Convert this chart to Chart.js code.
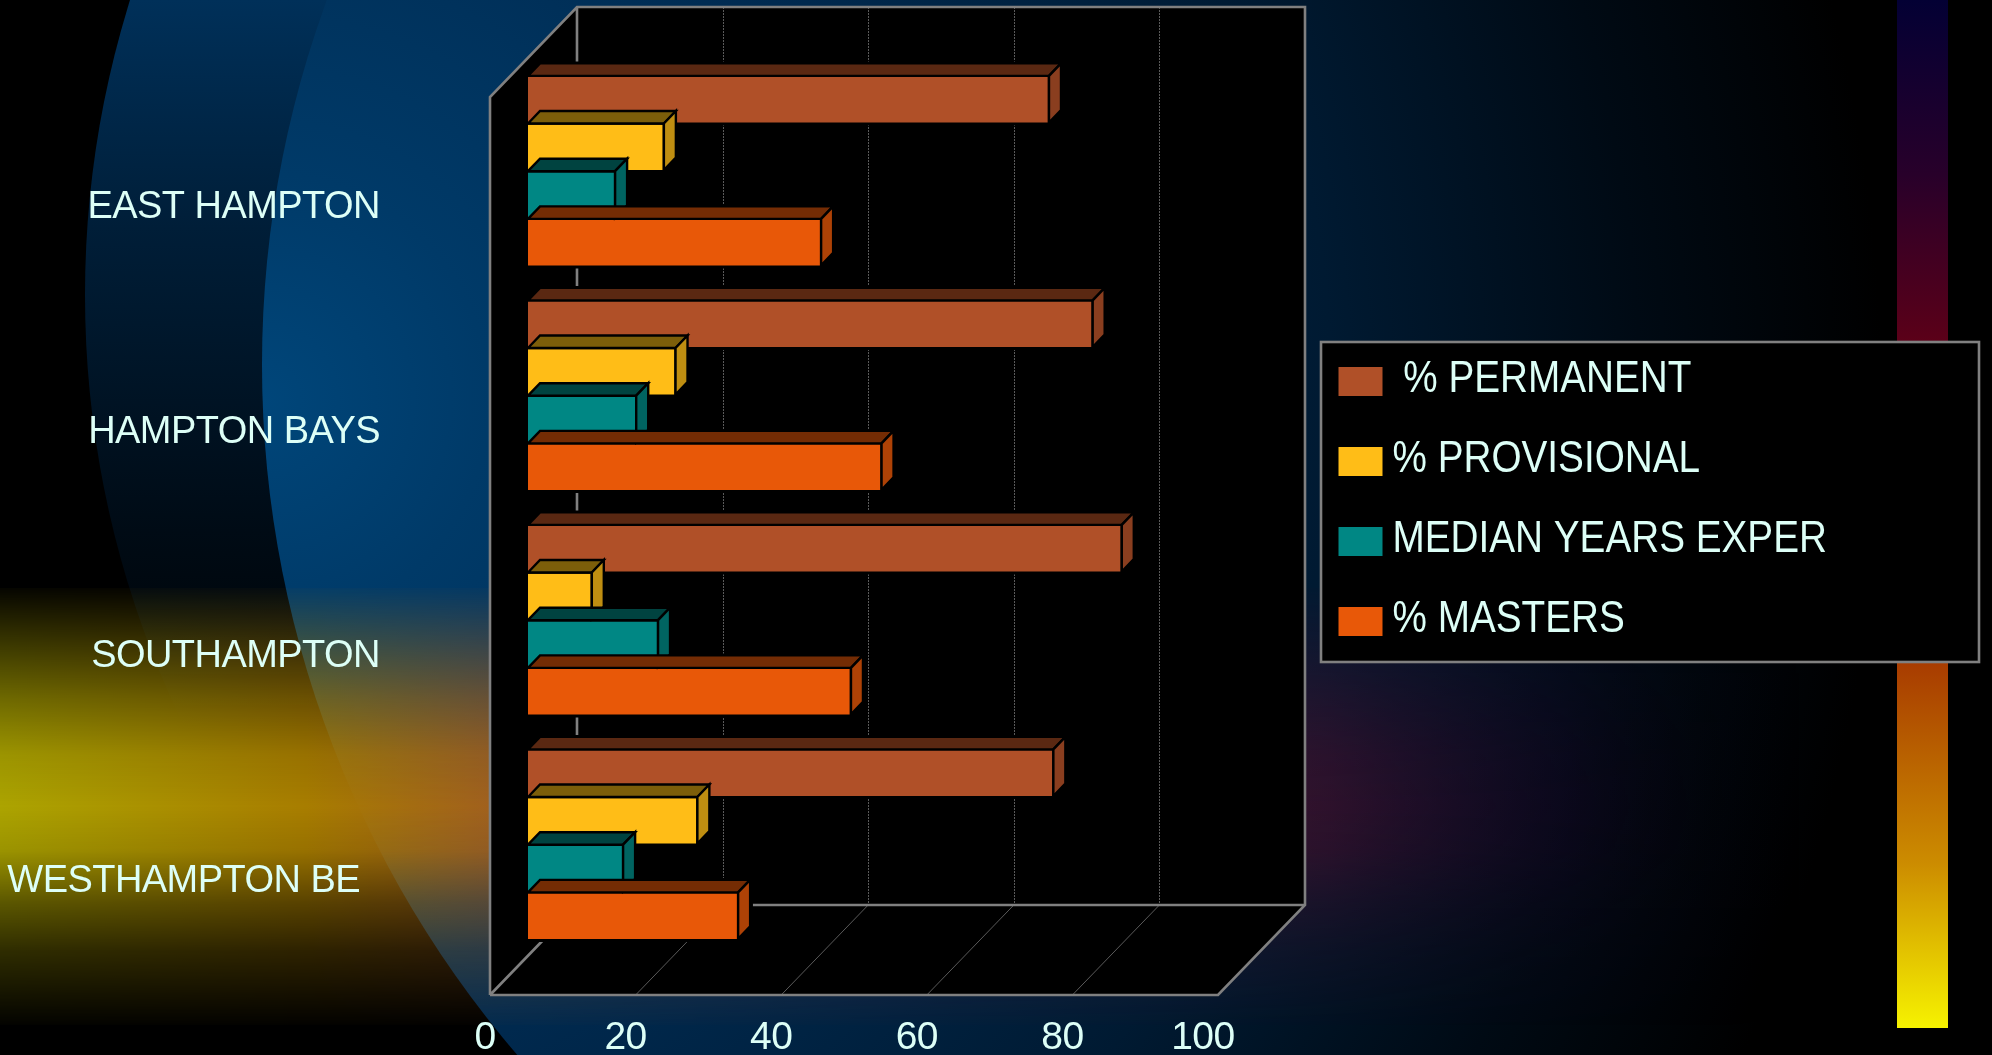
<!DOCTYPE html>
<html><head><meta charset="utf-8">
<style>html,body{margin:0;padding:0;background:#000;overflow:hidden}canvas{display:block}</style>
<script src="https://cdn.jsdelivr.net/npm/chart.js@4/dist/chart.umd.js"></script>
</head><body>
<canvas id="c" width="1992" height="1055"></canvas>
<script>
const categories = ["EAST HAMPTON", "HAMPTON BAYS", "SOUTHAMPTON", "WESTHAMPTON BE"];
const seriesNames = [" % PERMANENT", "% PROVISIONAL", "MEDIAN YEARS EXPER", "% MASTERS"];
const permanent = [71.4, 77.4, 81.4, 72.0];
const provisional = [18.5, 20.1, 8.6, 23.1];
const medianYears = [11.8, 14.7, 17.7, 12.9];
const masters = [40.1, 48.4, 44.2, 28.7];
const xTicks = [0, 20, 40, 60, 80, 100];
const faceColors = ["#B05028", "#FFBD17", "#008784", "#E85808"];
const topColors = ["#5A2812", "#7C5E0A", "#004340", "#742C04"];
const sideColors = ["#8A3E1F", "#BF8E11", "#006461", "#AE4206"];

const FONT = "Liberation Sans";
const TEXT = "#DDFFF7";
const FRAME = "#808080";
const depth = {fx:-38, fy:38, bx:49, by:-52};
const barDepth = {dx:12, dy:12.5, gap:1.2};

function paintBackground(ctx){
  ctx.letterSpacing = "-0.55px";
  ctx.save();
  ctx.fillStyle = "#000"; ctx.fillRect(0,0,1992,1055);
  ctx.save();
  ctx.beginPath(); ctx.arc(1074,295,989,0,Math.PI*2); ctx.clip();
  let g = ctx.createLinearGradient(0,0,0,760);
  g.addColorStop(0,"#003059"); g.addColorStop(.3,"#001e38"); g.addColorStop(.7,"#000b15"); g.addColorStop(1,"#000000");
  ctx.fillStyle = g; ctx.fillRect(0,0,1992,1055);
  ctx.restore();
  ctx.save();
  ctx.beginPath(); ctx.arc(1322,365,1060,0,Math.PI*2); ctx.clip();
  g = ctx.createRadialGradient(262,400,0,262,400,1620);
  g.addColorStop(0,"#00467a"); g.addColorStop(.14,"#003a68"); g.addColorStop(.4,"#002a50");
  g.addColorStop(.66,"#001a32"); g.addColorStop(.85,"#000a14"); g.addColorStop(1,"#000000");
  ctx.fillStyle = g; ctx.fillRect(0,0,1992,1055);
  ctx.restore();
  const off = document.createElement("canvas"); off.width = 1992; off.height = 437;
  const o = off.getContext("2d");
  g = o.createLinearGradient(0,0,1800,0);
  g.addColorStop(0,"rgba(172,164,0,1)");
  g.addColorStop(.17,"rgba(168,125,0,1)");
  g.addColorStop(.27,"rgba(170,100,25,.95)");
  g.addColorStop(.5,"rgba(140,40,40,.7)");
  g.addColorStop(.74,"rgba(72,14,44,.62)");
  g.addColorStop(.87,"rgba(30,4,40,.35)");
  g.addColorStop(1,"rgba(0,0,0,0)");
  o.fillStyle = g; o.fillRect(0,0,1992,437);
  o.globalCompositeOperation = "destination-in";
  g = o.createLinearGradient(0,0,0,437);
  [[0,.03],[.14,.37],[.25,.63],[.38,.9],[.5,1],[.6,.9],[.72,.53],[.83,.27],[1,.02]].forEach(s=>g.addColorStop(s[0],"rgba(0,0,0,"+s[1]+")"));
  o.fillStyle = g; o.fillRect(0,0,1992,437);
  ctx.drawImage(off,0,588);
  g = ctx.createLinearGradient(0,0,0,1028);
  g.addColorStop(0,"#030034"); g.addColorStop(.17,"#28002a"); g.addColorStop(.335,"#5c0018");
  g.addColorStop(.5,"#800f10"); g.addColorStop(.645,"#a83c00"); g.addColorStop(.84,"#cc8c00"); g.addColorStop(1,"#f6f200");
  ctx.fillStyle = g; ctx.fillRect(1897,0,51,1028);
  ctx.restore();
}

function line(ctx,a,b,c,d){ctx.beginPath();ctx.moveTo(a,b);ctx.lineTo(c,d);ctx.stroke();}

function paintBox(ctx,chart){
  const {left,right,top,bottom} = chart.chartArea;
  const x = chart.scales.x;
  const fl = left+depth.fx, fr = right+depth.fx, ft = top+depth.fy, fb = bottom+depth.fy;
  const bl = left+depth.bx, br = right+depth.bx, bt = top+depth.by, bb = bottom+depth.by;
  ctx.save();
  ctx.fillStyle = "#000";
  ctx.beginPath();
  ctx.moveTo(fl,ft);ctx.lineTo(bl,bt);ctx.lineTo(br,bt);ctx.lineTo(br,bb);ctx.lineTo(fr,fb);ctx.lineTo(fl,fb);ctx.closePath();
  ctx.fill();
  ctx.lineWidth = 1; ctx.strokeStyle = "#5a5a5a";
  x.ticks.forEach(t=>{
    const p = x.getPixelForValue(t.value);
    if(t.value>0 && t.value<100){
      ctx.setLineDash([2,1]);
      line(ctx,Math.round(p+depth.bx)+.5,bt,Math.round(p+depth.bx)+.5,bb);
      ctx.setLineDash([]);
      line(ctx,p+depth.fx,fb,p+depth.bx,bb);
    }
  });
  ctx.strokeStyle = FRAME; ctx.lineWidth = 2.6;
  ctx.beginPath();
  ctx.moveTo(fl,fb);ctx.lineTo(fl,ft);ctx.lineTo(bl,bt);ctx.lineTo(br,bt);ctx.lineTo(br,bb);ctx.lineTo(fr,fb);ctx.lineTo(fl,fb);
  ctx.moveTo(bl,bt);ctx.lineTo(bl,bb);ctx.lineTo(br,bb);
  ctx.moveTo(bl,bb);ctx.lineTo(fl,fb);
  ctx.stroke();
  const {dx,dy} = barDepth;
  chart.getSortedVisibleDatasetMetas().forEach(m=>{
    m.data.forEach(el=>{
      const t = el.y-el.height/2, b = el.y+el.height/2;
      ctx.beginPath();
      ctx.moveTo(el.base,b);ctx.lineTo(el.base,t);ctx.lineTo(el.base+dx,t-dy);ctx.lineTo(el.x+dx+1,t-dy);ctx.lineTo(el.x+dx+1,b-dy);ctx.lineTo(el.x,b);ctx.closePath();
      ctx.strokeStyle="#000";ctx.lineWidth=6;ctx.lineJoin="miter";ctx.stroke();ctx.fillStyle="#000";ctx.fill();
    });
  });
  ctx.restore();
}

function paintBarDepth(ctx,chart){
  const {dx,dy,gap} = barDepth;
  ctx.save();
  ctx.lineJoin = "miter"; ctx.strokeStyle = "#000"; ctx.lineWidth = gap*2;
  chart.data.datasets.forEach((d,i)=>{
    chart.getDatasetMeta(i).data.forEach(el=>{
      const t = el.y-el.height/2-gap, b = el.y+el.height/2, l = el.base, r = el.x+gap;
      ctx.beginPath();
      ctx.moveTo(l,t);ctx.lineTo(l+dx,t-dy);ctx.lineTo(r+dx,t-dy);ctx.lineTo(r,t);ctx.closePath();
      ctx.fillStyle = topColors[i];ctx.fill();ctx.stroke();
      ctx.beginPath();
      ctx.moveTo(r,t);ctx.lineTo(r+dx,t-dy);ctx.lineTo(r+dx,b-dy);ctx.lineTo(r,b);ctx.closePath();
      ctx.fillStyle = sideColors[i];ctx.fill();ctx.stroke();
    });
  });
  ctx.restore();
}

function paintLegend(ctx,chart){
  ctx.save();
  ctx.fillStyle = "#000";ctx.fillRect(1321,342,658,320);
  ctx.strokeStyle = FRAME;ctx.lineWidth = 2.6;ctx.strokeRect(1321,342,658,320);
  ctx.font = "44.7px '"+FONT+"'";ctx.textBaseline = "alphabetic";ctx.textAlign = "left";ctx.letterSpacing = "0px";
  chart.data.datasets.forEach((d,i)=>{
    const y = 367+80*i;
    ctx.fillStyle = d.backgroundColor;ctx.fillRect(1338.5,y,44,29);
    ctx.fillStyle = TEXT;
    ctx.save();ctx.translate(1392.5,y+24.5);ctx.scale(.866,1);ctx.fillText(d.label,0,0);ctx.restore();
  });
  ctx.restore();
}

const tickPad = {0:" 0",100:"100 "};
const catPad = {3:"  "};
const noPad = s=>{s.paddingTop=s.paddingBottom=s.paddingLeft=s.paddingRight=0;};

new Chart(document.getElementById("c"),{
  type:"bar",
  data:{
    labels:categories,
    datasets:[permanent,provisional,medianYears,masters].map((v,i)=>({
      label:seriesNames[i],data:v,backgroundColor:faceColors[i],borderWidth:0,
      categoryPercentage:.849,barPercentage:.952
    }))
  },
  options:{
    indexAxis:"y",responsive:false,animation:false,devicePixelRatio:1,
    layout:{padding:{top:59,right:736,left:0,bottom:0}},
    plugins:{legend:{display:false},tooltip:{enabled:false},title:{display:false}},
    scales:{
      x:{min:0,max:100,afterBuildTicks:s=>{s.ticks=xTicks.map(v=>({value:v}));},
        grid:{display:false,drawTicks:false},border:{display:false},
        afterFit:s=>{s.height=98;noPad(s);},
        ticks:{color:TEXT,font:{family:FONT,size:39},padding:58,labelOffset:-48,maxRotation:0,autoSkip:false,
          callback:v=>tickPad[v]||String(v)}},
      y:{grid:{display:false,drawTicks:false},border:{display:false},
        afterFit:s=>{s.width=528;noPad(s);},
        ticks:{color:TEXT,font:{family:FONT,size:38},padding:148,labelOffset:36.5,autoSkip:false,
          callback:(v,i)=>categories[i]+(catPad[i]||"")}}
    }
  },
  plugins:[{
    id:"scene",
    beforeDraw(chart){paintBackground(chart.ctx);},
    beforeDatasetsDraw(chart){paintBox(chart.ctx,chart);},
    afterDatasetsDraw(chart){paintBarDepth(chart.ctx,chart);paintLegend(chart.ctx,chart);}
  }]
});
</script>
</body></html>
